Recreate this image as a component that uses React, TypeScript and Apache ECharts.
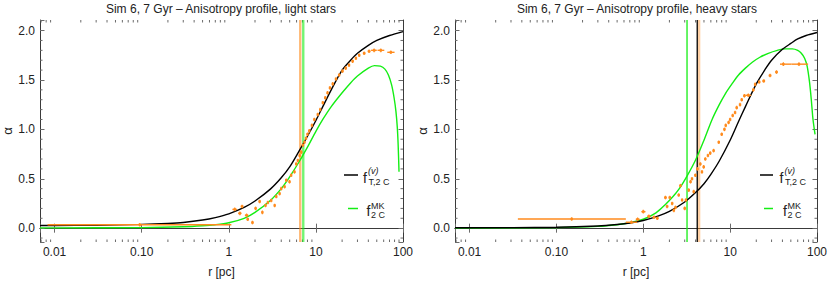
import React, { useEffect, useRef } from 'react';
import * as echarts from 'echarts';

const X_MIN = 0.0068;
const X_MAX = 100;
const Y_MIN = -0.14;
const Y_MAX = 2.107;

const FONT = "'Liberation Sans', Arial, sans-serif";
const ORANGE = '#FF8A1C';
const GREEN = '#14EE14';
const BLACK = '#000000';
const FRAME = '#3a3a3a';
const TICK = '#6a6a6a';
const TEXT = '#222222';

const titles = ['Sim 6, 7 Gyr \u2013 Anisotropy profile, light stars', 'Sim 6, 7 Gyr \u2013 Anisotropy profile, heavy stars'];
const xTickLabels: Record<string, string> = { '-2': '0.01', '-1': '0.10', '0': '1', '1': '10', '2': '100' };
const xMinorTicks = [0.007, 0.008, 0.009, 0.02, 0.03, 0.04, 0.05, 0.06, 0.07, 0.08, 0.09, 0.2, 0.3, 0.4, 0.5, 0.6, 0.7, 0.8, 0.9, 2, 3, 4, 5, 6, 7, 8, 9, 20, 30, 40, 50, 60, 70, 80, 90];
const yMinorTicks = [-0.1, 0.1, 0.2, 0.3, 0.4, 0.6, 0.7, 0.8, 0.9, 1.1, 1.2, 1.3, 1.4, 1.6, 1.7, 1.8, 1.9];

// ---- light stars (left panel) ----
const lightBlackR = [0.0068, 0.01, 0.03, 0.1, 0.2, 0.3, 0.5, 0.7, 1, 1.5, 2, 3, 4, 5, 6.5, 8, 10, 12, 15, 20, 25, 30, 40, 50, 70, 100];
const lightBlackA = [0.027, 0.027, 0.03, 0.038, 0.048, 0.058, 0.082, 0.107, 0.145, 0.21, 0.275, 0.395, 0.51, 0.62, 0.79, 0.93, 1.09, 1.23, 1.4, 1.6, 1.7, 1.77, 1.85, 1.9, 1.95, 1.99];
const lightGreenR = [0.0068, 0.01, 0.1, 0.3, 0.5, 0.7, 1, 1.5, 2, 3, 4, 5, 6.5, 8, 10, 12, 15, 20, 25, 30, 40, 47, 55, 62, 68, 74, 79, 83, 86, 88, 90];
const lightGreenA = [0.003, 0.003, 0.006, 0.014, 0.024, 0.035, 0.055, 0.1, 0.16, 0.28, 0.4, 0.52, 0.68, 0.82, 0.98, 1.1, 1.23, 1.37, 1.47, 1.54, 1.62, 1.645, 1.64, 1.61, 1.55, 1.45, 1.32, 1.18, 1.02, 0.84, 0.57];
// [r, alpha, rLow, rHigh]
const lightPoints: number[][] = [
  [0.095, 0.035, 0.0083, 1.07],
  [1.17, 0.19, 1.1, 1.24], [1.34, 0.15, 1.28, 1.4], [1.42, 0.22, 1.37, 1.47], [1.6, 0.13, 1.53, 1.68],
  [1.65, 0.09, 1.6, 1.7], [1.87, 0.057, 1.82, 1.92], [2.03, 0.2, 1.98, 2.08], [2.26, 0.27, 2.2, 2.32],
  [2.43, 0.16, 2.38, 2.48], [2.64, 0.23, 2.59, 2.69], [2.81, 0.26, 2.76, 2.86], [3.07, 0.28, 3.02, 3.12],
  [3.36, 0.23, 3.3, 3.42], [3.51, 0.32, 3.45, 3.57], [3.83, 0.35, 3.76, 3.9], [4.0, 0.4, 3.93, 4.07],
  [4.37, 0.42, 4.3, 4.45], [4.57, 0.485, 4.49, 4.65], [4.98, 0.47, 4.9, 5.07], [5.2, 0.535, 5.11, 5.29],
  [5.68, 0.57, 5.58, 5.78], [5.94, 0.65, 5.84, 6.05], [6.2, 0.685, 6.1, 6.31], [6.5, 0.735, 6.39, 6.62],
  [6.8, 0.77, 6.68, 6.92], [7.1, 0.84, 6.98, 7.23], [7.4, 0.87, 7.27, 7.53], [7.7, 0.91, 7.56, 7.84],
  [8.0, 0.95, 7.86, 8.15], [8.4, 0.985, 8.25, 8.56], [9.0, 1.04, 8.84, 9.17], [9.6, 1.1, 9.43, 9.78],
  [10.5, 1.15, 10.3, 10.7], [11.2, 1.2, 11.0, 11.4], [12.0, 1.27, 11.8, 12.2], [12.8, 1.32, 12.6, 13.0],
  [13.6, 1.37, 13.4, 13.8], [14.5, 1.42, 14.2, 14.8], [15.6, 1.46, 15.3, 15.9], [17, 1.51, 16.7, 17.3],
  [18.5, 1.55, 18.1, 18.9], [20.2, 1.59, 19.8, 20.6], [22, 1.62, 21.5, 22.5], [24, 1.65, 23.4, 24.6],
  [26.4, 1.69, 25.8, 27.0], [28.8, 1.72, 28.1, 29.5], [31.4, 1.75, 30.6, 32.2], [35.8, 1.77, 34.6, 37.0],
  [40.8, 1.79, 39.3, 42.3], [46.6, 1.8, 43, 50], [55.6, 1.8, 51, 61], [72.5, 1.78, 66, 80],
];
const lightVLines = [
  { r: 6.61, color: ORANGE, width: 2.4, opacity: 0.6 },
  { r: 7.16, color: GREEN, width: 2.4, opacity: 0.6 },
];

// ---- heavy stars (right panel) ----
const heavyBlackR = [0.0068, 0.01, 0.1, 0.3, 0.5, 0.7, 1, 1.5, 2, 3, 4, 5, 6, 7.5, 10, 12.5, 15, 20, 25, 30, 40, 50, 60, 75, 100];
const heavyBlackA = [0.004, 0.004, 0.009, 0.022, 0.037, 0.052, 0.078, 0.125, 0.17, 0.265, 0.36, 0.45, 0.545, 0.68, 0.89, 1.08, 1.23, 1.46, 1.6, 1.7, 1.81, 1.87, 1.915, 1.95, 1.98];
const heavyGreenR = [0.0068, 0.01, 0.1, 0.3, 0.5, 0.7, 1, 1.4, 1.8, 2.2, 2.6, 3.2, 4, 5, 6.2, 7.5, 8.8, 10.5, 12.5, 15, 18, 22, 27.5, 35, 43, 52, 60, 66, 72, 77, 82, 86, 90, 95];
const heavyGreenA = [0.0, 0.001, 0.006, 0.018, 0.035, 0.055, 0.09, 0.155, 0.24, 0.32, 0.4, 0.53, 0.69, 0.89, 1.1, 1.25, 1.36, 1.46, 1.55, 1.62, 1.68, 1.73, 1.77, 1.8, 1.815, 1.815, 1.8, 1.77, 1.72, 1.64, 1.48, 1.3, 1.1, 0.95];
const heavyPoints: number[][] = [
  [0.15, 0.093, 0.036, 0.63],
  [0.73, 0.06, 0.63, 0.85], [0.86, 0.09, 0.82, 0.91], [1.0, 0.167, 0.95, 1.06], [1.16, 0.12, 1.11, 1.21],
  [1.33, 0.11, 1.28, 1.38], [1.45, 0.1, 1.4, 1.5], [1.8, 0.31, 1.74, 1.86], [1.88, 0.22, 1.82, 1.94],
  [2.02, 0.31, 1.96, 2.08], [2.15, 0.25, 2.09, 2.21], [2.25, 0.18, 2.19, 2.31], [2.35, 0.21, 2.29, 2.41],
  [2.56, 0.335, 2.49, 2.63], [2.68, 0.43, 2.61, 2.75], [2.8, 0.285, 2.73, 2.87], [3.0, 0.2, 2.92, 3.08],
  [3.1, 0.285, 3.02, 3.18], [3.34, 0.385, 3.26, 3.42], [3.5, 0.47, 3.42, 3.58], [3.64, 0.5, 3.56, 3.72],
  [3.81, 0.37, 3.72, 3.9], [3.98, 0.535, 3.89, 4.07], [4.2, 0.6, 4.1, 4.3], [4.54, 0.65, 4.44, 4.64],
  [4.74, 0.57, 4.63, 4.85], [4.96, 0.62, 4.85, 5.07], [5.18, 0.7, 5.06, 5.3], [5.55, 0.735, 5.42, 5.68],
  [5.9, 0.76, 5.76, 6.04], [6.45, 0.785, 6.3, 6.6], [7.4, 0.87, 7.22, 7.58], [8.0, 0.95, 7.8, 8.2],
  [8.6, 1.0, 8.4, 8.8], [8.9, 1.04, 8.7, 9.1], [9.6, 1.07, 9.37, 9.83], [10.0, 1.1, 9.76, 10.24],
  [10.7, 1.14, 10.45, 10.95], [11.4, 1.17, 11.13, 11.67], [11.9, 1.22, 11.6, 12.2], [13.0, 1.25, 12.7, 13.3],
  [13.6, 1.3, 13.3, 13.9], [14.6, 1.34, 14.2, 15.0], [16.2, 1.345, 15.0, 17.5], [18.5, 1.4, 18.0, 19.0],
  [19.4, 1.455, 18.9, 19.9], [21.6, 1.48, 21.0, 22.2], [24.4, 1.49, 23.5, 25.3], [28.8, 1.545, 27.8, 29.8],
  [34.2, 1.58, 33.0, 35.4], [41, 1.66, 37.5, 51], [62, 1.66, 51, 79],
];
const heavyVLines = [
  { r: 3.19, color: GREEN, width: 1.3, opacity: 1 },
  { r: 4.36, color: ORANGE, width: 3, opacity: 0.4 },
  { r: 4.18, color: BLACK, width: 1.3, opacity: 1 },
];

const zip = (a: number[], b: number[]) => a.map((v, i) => [v, b[i]]);

function xAxisPair(gridIndex: number) {
  const common = {
    type: 'log' as const,
    logBase: 10,
    min: X_MIN,
    max: X_MAX,
    gridIndex,
    splitLine: { show: false },
    axisLine: { show: true, lineStyle: { color: FRAME, width: 1 } },
    axisTick: { show: true, inside: true, length: 4.5, lineStyle: { color: TICK } },
  };
  return [
    {
      ...common,
      position: 'bottom',
      name: 'r [pc]',
      nameLocation: 'middle',
      nameGap: 24,
      nameTextStyle: { fontFamily: FONT, fontSize: 12, color: TEXT },
      axisLabel: {
        show: true,
        interval: 0,
        showMinLabel: true,
        showMaxLabel: true,
        margin: 4,
        fontFamily: FONT,
        fontSize: 12,
        color: TEXT,
        formatter: (v: number) => {
          const l = Math.log10(v);
          const rl = Math.round(l);
          if (Math.abs(l - rl) > 1e-6) return '';
          return xTickLabels[String(rl)] ?? '';
        },
      },
    },
    { ...common, position: 'top', axisLabel: { show: false } },
  ];
}

function yAxisPair(gridIndex: number) {
  const common = {
    type: 'value' as const,
    min: Y_MIN,
    max: Y_MAX,
    splitNumber: 5,
    gridIndex,
    splitLine: { show: false },
    axisLine: { show: true, lineStyle: { color: FRAME, width: 1 } },
    axisTick: { show: true, inside: true, length: 4.5, lineStyle: { color: TICK } },
  };
  return [
    {
      ...common,
      position: 'left',
      name: '\u03b1',
      nameLocation: 'middle',
      nameRotate: 90,
      nameGap: 25,
      nameTextStyle: { fontFamily: FONT, fontSize: 13, color: TEXT },
      axisLabel: {
        show: true,
        margin: 5,
        fontFamily: FONT,
        fontSize: 12,
        color: TEXT,
        formatter: (v: number) => (Math.abs(v * 2 - Math.round(v * 2)) < 1e-6 ? v.toFixed(1) : ''),
      },
    },
    { ...common, position: 'right', axisLabel: { show: false } },
  ];
}

function minorTickSeries(xi: number, yi: number) {
  return [
    {
      type: 'custom',
      xAxisIndex: xi,
      yAxisIndex: yi,
      silent: true,
      z: 1,
      data: xMinorTicks.map((v) => [v, 1]),
      encode: { x: 0, y: 1 },
      renderItem: (params: any, api: any) => {
        const x = api.coord([api.value(0), 1])[0];
        const cs = params.coordSys;
        return {
          type: 'group',
          children: [
            { type: 'line', shape: { x1: x, y1: cs.y + cs.height, x2: x, y2: cs.y + cs.height - 2.5 }, style: { stroke: TICK, lineWidth: 1 } },
            { type: 'line', shape: { x1: x, y1: cs.y, x2: x, y2: cs.y + 2.5 }, style: { stroke: TICK, lineWidth: 1 } },
          ],
        };
      },
    },
    {
      type: 'custom',
      xAxisIndex: xi,
      yAxisIndex: yi,
      silent: true,
      z: 1,
      data: yMinorTicks.map((v) => [1, v]),
      encode: { x: 0, y: 1 },
      renderItem: (params: any, api: any) => {
        const y = api.coord([1, api.value(1)])[1];
        const cs = params.coordSys;
        return {
          type: 'group',
          children: [
            { type: 'line', shape: { x1: cs.x, y1: y, x2: cs.x + 2.5, y2: y }, style: { stroke: TICK, lineWidth: 1 } },
            { type: 'line', shape: { x1: cs.x + cs.width, y1: y, x2: cs.x + cs.width - 2.5, y2: y }, style: { stroke: TICK, lineWidth: 1 } },
          ],
        };
      },
    },
  ];
}

function vLineSeries(lines: { r: number; color: string; width: number; opacity: number }[], xi: number, yi: number) {
  return lines.map((l) => ({
    type: 'line',
    xAxisIndex: xi,
    yAxisIndex: yi,
    data: [[l.r, Y_MIN], [l.r, Y_MAX]],
    symbol: 'none',
    silent: true,
    z: 2,
    lineStyle: { color: l.color, width: l.width, opacity: l.opacity },
  }));
}

function curveSeries(r: number[], a: number[], color: string, xi: number, yi: number, z: number) {
  return {
    type: 'line',
    xAxisIndex: xi,
    yAxisIndex: yi,
    data: zip(r, a),
    symbol: 'none',
    smooth: 0.3,
    silent: true,
    z,
    lineStyle: { color, width: 1.4 },
  };
}

function pointsSeries(points: number[][], xi: number, yi: number) {
  return {
    type: 'custom',
    xAxisIndex: xi,
    yAxisIndex: yi,
    silent: true,
    z: 5,
    data: points,
    encode: { x: 0, y: 1 },
    renderItem: (_params: any, api: any) => {
      const r = api.value(0);
      const a = api.value(1);
      const c = api.coord([r, a]);
      const lo = api.coord([api.value(2), a]);
      const hi = api.coord([api.value(3), a]);
      return {
        type: 'group',
        children: [
          { type: 'line', shape: { x1: lo[0], y1: c[1], x2: hi[0], y2: c[1] }, style: { stroke: ORANGE, lineWidth: 1.4 } },
          { type: 'line', shape: { x1: c[0], y1: c[1] - 1.8, x2: c[0], y2: c[1] + 1.8 }, style: { stroke: ORANGE, lineWidth: 1.2 } },
          { type: 'rect', shape: { x: c[0] - 1.2, y: c[1] - 1.2, width: 2.4, height: 2.4 }, style: { fill: ORANGE } },
        ],
      };
    },
  };
}

function legend(lineBlack: [number, number], lineGreen: [number, number], fBlackX: number, fGreenX: number) {
  const t = (x: number, y: number, text: string, size: number, italic = false) => ({
    type: 'text',
    x,
    y,
    style: { text, font: `${italic ? 'italic ' : ''}${size}px ${FONT}`, fill: TEXT, textVerticalAlign: 'middle', verticalAlign: 'middle' },
  });
  return [
    { type: 'line', shape: { x1: lineBlack[0], y1: 175, x2: lineBlack[1], y2: 175 }, style: { stroke: BLACK, lineWidth: 1.5 } },
    t(fBlackX, 177.8, 'f', 14),
    t(fBlackX + 5, 170.5, '(v)', 9, true),
    t(fBlackX + 5.5, 182, 'T,2 C', 9),
    { type: 'line', shape: { x1: lineGreen[0], y1: 208.5, x2: lineGreen[1], y2: 208.5 }, style: { stroke: GREEN, lineWidth: 1.5 } },
    t(fGreenX, 211, 'f', 14),
    t(fGreenX + 4.5, 205.8, 'MK', 9),
    t(fGreenX + 4.5, 215.2, '2 C', 9),
  ];
}

export default function App() {
  const ref = useRef<HTMLDivElement>(null);
  useEffect(() => {
    if (!ref.current) return;
    const chart = echarts.init(ref.current, undefined, { renderer: 'svg' });
    const [x0, x1] = xAxisPair(0);
    const [x2, x3] = xAxisPair(1);
    const [y0, y1] = yAxisPair(0);
    const [y2, y3] = yAxisPair(1);
    chart.setOption({
      animation: false,
      backgroundColor: '#ffffff',
      grid: [
        { left: 40, top: 20, width: 363, height: 224 },
        { left: 455, top: 20, width: 364, height: 224 },
      ],
      xAxis: [x0, x1, x2, x3],
      yAxis: [y0, y1, y2, y3],
      series: [
        ...minorTickSeries(0, 0),
        ...minorTickSeries(2, 2),
        ...vLineSeries(lightVLines, 0, 0),
        ...vLineSeries(heavyVLines, 2, 2),
        curveSeries(lightGreenR, lightGreenA, GREEN, 0, 0, 3),
        curveSeries(lightBlackR, lightBlackA, BLACK, 0, 0, 4),
        curveSeries(heavyGreenR, heavyGreenA, GREEN, 2, 2, 3),
        curveSeries(heavyBlackR, heavyBlackA, BLACK, 2, 2, 4),
        pointsSeries(lightPoints, 0, 0),
        pointsSeries(heavyPoints, 2, 2),
      ],
      graphic: [
        { type: 'text', x: 221, y: 9, style: { text: titles[0], font: `12px ${FONT}`, fill: TEXT, textAlign: 'center', textVerticalAlign: 'middle', align: 'center', verticalAlign: 'middle' } },
        { type: 'text', x: 637, y: 9, style: { text: titles[1], font: `12px ${FONT}`, fill: TEXT, textAlign: 'center', textVerticalAlign: 'middle', align: 'center', verticalAlign: 'middle' } },
        ...legend([344, 358], [348, 358], 363, 366.5),
        ...legend([760, 773], [764, 773], 779.5, 783),
      ],
    });
    return () => chart.dispose();
  }, []);
  return <div ref={ref} style={{ position: 'fixed', left: 0, top: 0, width: 830, height: 283 }} />;
}
